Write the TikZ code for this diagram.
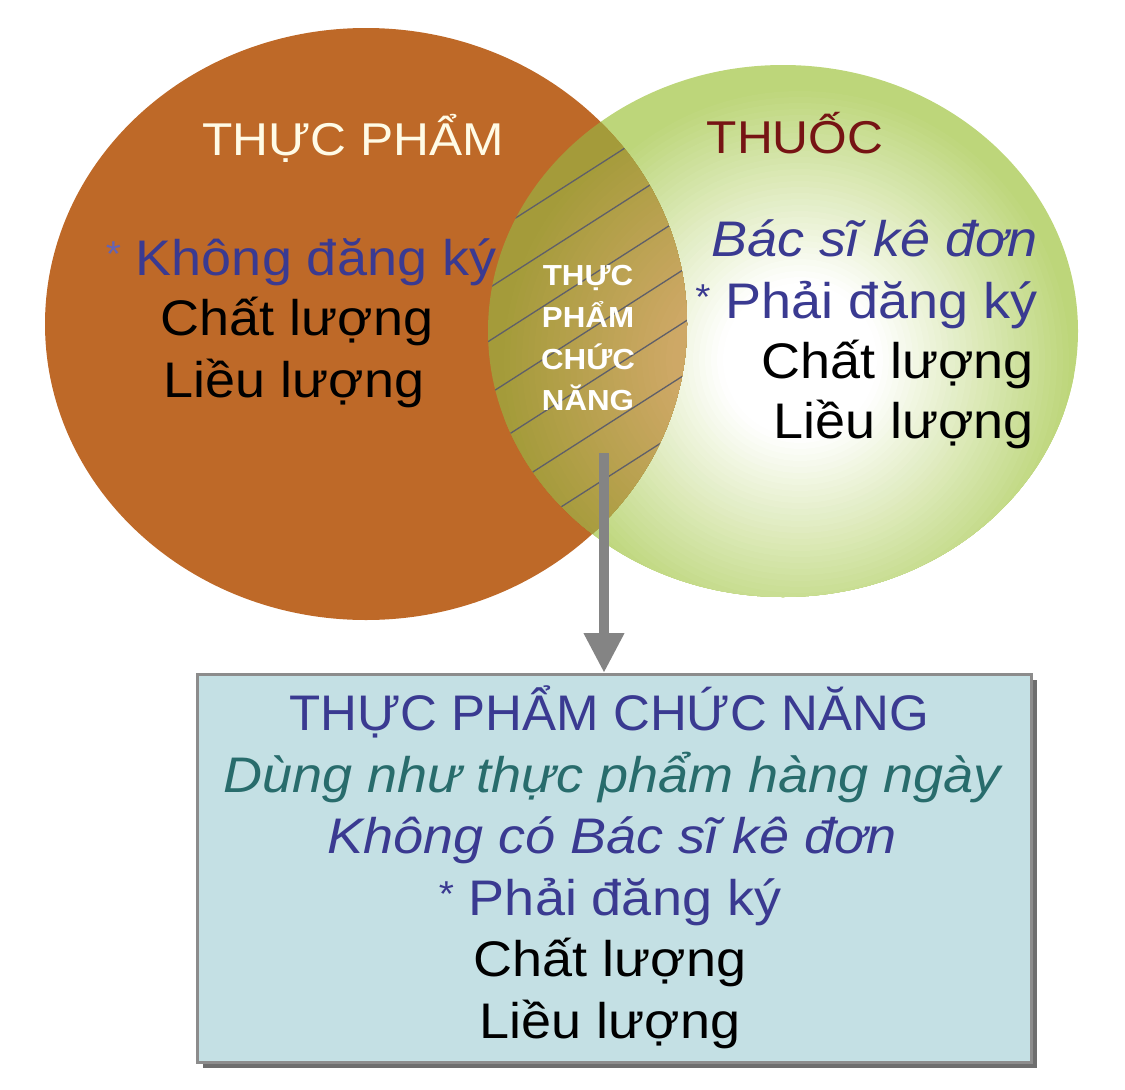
\documentclass[tikz,border=0pt]{standalone}
\usepackage{fontspec}
\usepackage{graphicx}
\setmainfont{Liberation Sans}
\usetikzlibrary{arrows.meta}
\definecolor{brownc}{RGB}{190,105,40}
\definecolor{greenc}{RGB}{189,214,122}
\definecolor{olivec}{RGB}{164,155,58}
\definecolor{tanc}{RGB}{206,168,102}
\definecolor{hatchc}{RGB}{95,95,105}
\definecolor{bluec}{RGB}{58,58,145}
\definecolor{astc}{RGB}{100,100,180}
\definecolor{tealc}{RGB}{40,108,108}
\definecolor{redc}{RGB}{118,20,20}
\definecolor{creamc}{RGB}{255,251,230}
\definecolor{boxc}{RGB}{196,224,228}
\definecolor{boxline}{RGB}{140,140,140}
\definecolor{shadowc}{RGB}{110,110,110}
\definecolor{arrowc}{RGB}{132,132,132}
\newcommand\sx[1]{\scalebox{1.08}[1]{#1}}
\newcommand\astmark[1]{\raisebox{9pt}{\fontsize{36}{36}\selectfont\color{#1}*}}
\begin{document}
\begin{tikzpicture}[x=1pt,y=-1pt,
  body/.style={anchor=base,inner sep=0pt,font=\fontsize{50}{60}\selectfont},
  title/.style={anchor=base,inner sep=0pt,font=\fontsize{46}{55}\selectfont},
  lenstxt/.style={anchor=base,inner sep=0pt,text=white,font=\bfseries\fontsize{29}{35}\selectfont},
  hatch/.style={draw=hatchc,line width=1.3pt},
  arrowline/.style={draw=arrowc,line width=10pt,-{Triangle[width=38pt,length=40pt]}},
  boxstyle/.style={draw=boxline,line width=2.5pt,fill=boxc,minimum width=834pt,minimum height=388pt,inner sep=0pt,anchor=north west}]
\useasboundingbox (0,0) rectangle (1125,1090);
% green ellipse with radial gradient (white core)
\begin{scope}
  \clip (783,331) ellipse [x radius=295, y radius=266];
  \fill[greenc] (783,331) ellipse [x radius=300, y radius=270];
  \foreach \r in {275,269,...,75} {
    \pgfmathsetmacro\t{min(100,max(0,(275-\r)/(275-80)*100))}
    \fill[white!\t!greenc] (800,360) circle (\r);
  }
\end{scope}
% brown ellipse
\fill[brownc] (366,324) ellipse [x radius=321, y radius=296];
% lens: intersection
\begin{scope}
  \clip (366,324) ellipse [x radius=321, y radius=296];
  \clip (783,331) ellipse [x radius=295, y radius=266];
  \fill[olivec] (600,330) circle (320);
  \foreach \r in {262,256,...,88} {
    \pgfmathsetmacro\t{min(100,max(0,(262-\r)/(262-90)*100))}
    \fill[tanc!\t!olivec] (760,360) circle (\r);
  }
  \foreach \b in {548,601,654,707,760,813,866}
    \draw[hatch] (470,{\b-0.64*470}) -- (710,{\b-0.64*710});
\end{scope}
% circle texts
\node[title,text=creamc] (tp) at (353,155) {\sx{THỰC PHẨM}};
\node[title,text=redc] (thuoc) at (795,153) {\sx{THUỐC}};
\node[body,text=bluec] (l1) at (301,275) {\sx{\astmark{astc} Không đăng ký}};
\node[body] (l2) at (297,335) {\sx{Chất lượng}};
\node[body] (l3) at (294,397) {\sx{Liều lượng}};
\node[body,anchor=base east,text=bluec] (r1) at (1038,256) {\sx{\itshape Bác sĩ kê đơn}};
\node[body,anchor=base east,text=bluec] (r2) at (1038,318) {\sx{\astmark{bluec} Phải đăng ký}};
\node[body,anchor=base east] (r3) at (1034,378) {\sx{Chất lượng}};
\node[body,anchor=base east] (r4) at (1034,438) {\sx{Liều lượng}};
\node[lenstxt] (m1) at (588,285) {\sx{THỰC}};
\node[lenstxt] (m2) at (588,327) {\sx{PHẨM}};
\node[lenstxt] (m3) at (588,369) {\sx{CHỨC}};
\node[lenstxt] (m4) at (588,410) {\sx{NĂNG}};
% box
\fill[shadowc] (203,680) rectangle (1037,1068);
\node[boxstyle] (box) at (196,673) {};
\node[body,text=bluec] (b1) at (609,730) {\scalebox{1.02}[1]{THỰC PHẨM CHỨC NĂNG}};
\node[body,text=tealc] (b2) at (612,792) {\sx{\itshape Dùng như thực phẩm hàng ngày}};
\node[body,text=bluec] (b3) at (612,853) {\sx{\itshape Không có Bác sĩ kê đơn}};
\node[body,text=bluec] (b4) at (610,915) {\sx{\astmark{bluec} Phải đăng ký}};
\node[body] (b5) at (610,976) {\sx{Chất lượng}};
\node[body] (b6) at (610,1038) {\sx{Liều lượng}};
% arrow
\coordinate (astart) at (604,453);
\draw[arrowline] (astart) -- (astart |- box.north);
\end{tikzpicture}
\end{document}
